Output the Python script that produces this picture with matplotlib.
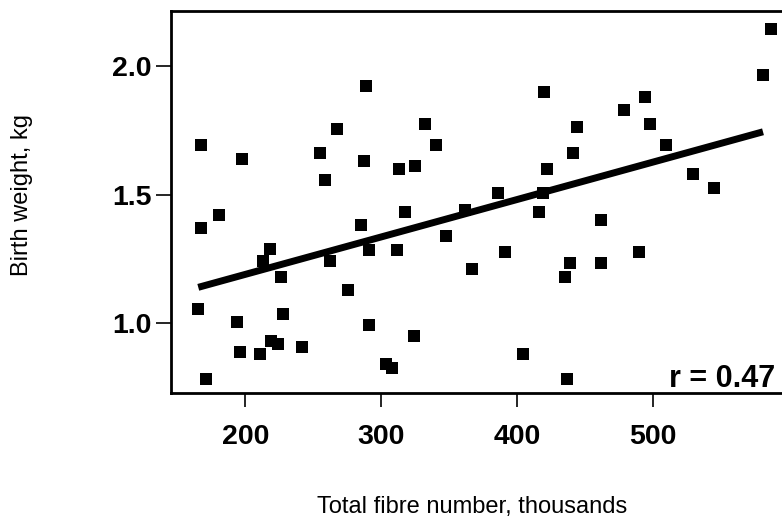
import matplotlib
matplotlib.use("Agg")
import matplotlib.pyplot as plt

plt.rcParams['font.family'] = ['Liberation Sans', 'DejaVu Sans']

# Data
fibre_number = [167.2, 197.4, 180.3, 288.8, 267.6, 254.9, 258.6, 287.1, 332.3, 340.2,
                313.3, 324.9, 317.5, 285.3, 361.8, 587.3, 581.6, 420.0, 494.4, 479.1,
                444.5, 497.9, 509.7, 441.1, 422.4, 530.0, 545.5, 385.9, 419.0, 416.3,
                462.0, 167.0, 218.3, 213.1, 225.9, 262.3, 290.8, 311.4, 347.8, 366.7,
                275.5, 165.2, 193.5, 227.6, 290.8, 324.4, 195.9, 210.9, 218.6, 224.2,
                241.6, 303.3, 308.2, 170.9, 391.5, 439.1, 435.7, 462.2, 490.2, 404.7,
                437.1]
birth_weight = [1.693, 1.639, 1.422, 1.922, 1.754, 1.663, 1.556, 1.630, 1.775, 1.693,
                1.598, 1.611, 1.431, 1.380, 1.440, 2.143, 1.965, 1.900, 1.878, 1.828,
                1.764, 1.775, 1.693, 1.663, 1.600, 1.580, 1.526, 1.507, 1.507, 1.432,
                1.401, 1.371, 1.287, 1.242, 1.180, 1.242, 1.284, 1.284, 1.339, 1.210,
                1.128, 1.056, 1.005, 1.034, 0.993, 0.949, 0.887, 0.878, 0.929, 0.918,
                0.908, 0.840, 0.826, 0.782, 1.275, 1.235, 1.180, 1.235, 1.275, 0.878,
                0.782]

fit_x = [165.2, 581.4]
fit_y = [1.139, 1.744]

x_ticks = [200, 300, 400, 500]
x_tick_labels = ['200', '300', '400', '500']
y_ticks = [1.0, 1.5, 2.0]
y_tick_labels = ['1.0', '1.5', '2.0']

r_label = 'r = 0.47'
x_title = 'Total fibre number, thousands'
y_title = 'Birth weight, kg'

fig = plt.figure(figsize=(7.82, 5.21), dpi=100)
ax = fig.add_axes([171 / 782, (521 - 393) / 521, (782 - 171) / 782, (393 - 10.7) / 521])

ax.plot(fit_x, fit_y, color='black', lw=5, solid_capstyle='butt', zorder=2)
ax.scatter(fibre_number, birth_weight, marker='s', s=74, color='black',
           edgecolors='none', zorder=3, clip_on=False)

ax.set_xlim(145.1, 595.4)
ax.set_ylim(0.728, 2.215)

ax.set_xticks(x_ticks)
ax.set_xticklabels(x_tick_labels, fontsize=20.5, fontweight='bold')
ax.set_yticks(y_ticks)
ax.set_yticklabels(y_tick_labels, fontsize=20.5, fontweight='bold')
ax.tick_params(axis='x', direction='out', length=10, width=1.2, pad=12)
ax.tick_params(axis='y', direction='out', length=10.5, width=1.2, pad=3.5)

for side in ['left', 'top', 'bottom']:
    ax.spines[side].set_linewidth(2)
ax.spines['right'].set_visible(False)

ax.set_xlabel(x_title, fontsize=17)
ax.xaxis.set_label_coords((472 - 171) / 611, (393 - 496) / 382.3)
ax.set_ylabel(y_title, fontsize=17)
ax.yaxis.set_label_coords((33 - 171) / 611, (393 - 195) / 382.3)

ax.text((775 - 171) / 611, (393 - 387) / 382.3, r_label, transform=ax.transAxes,
        ha='right', va='baseline', fontsize=22, fontweight='bold')

fig.savefig('out.png', dpi=100)
